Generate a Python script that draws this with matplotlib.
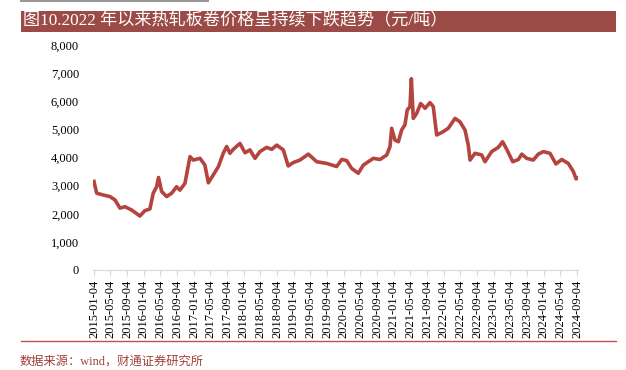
import pandas as pd
import matplotlib
matplotlib.use("Agg")
import matplotlib.pyplot as plt
import matplotlib.dates as mdates
from matplotlib.patches import Rectangle
from matplotlib.lines import Line2D
from matplotlib.ticker import FuncFormatter

plt.rcParams['font.family'] = ['Liberation Serif', 'Noto Sans CJK SC', 'DejaVu Sans']

# hot rolled coil price (yuan/ton)
dates = ['2015-01-04', '2015-01-11', '2015-01-24', '2015-03-11', '2015-05-01', '2015-06-07',
         '2015-07-13', '2015-08-19', '2015-10-07', '2015-12-06', '2016-01-11', '2016-02-17',
         '2016-03-12', '2016-04-06', '2016-04-20', '2016-05-13', '2016-06-18', '2016-07-25',
         '2016-08-30', '2016-09-23', '2016-10-30', '2016-12-06', '2016-12-30', '2017-02-17',
         '2017-03-25', '2017-04-19', '2017-05-25', '2017-07-01', '2017-08-06', '2017-08-31',
         '2017-09-24', '2017-10-18', '2017-12-06', '2018-01-12', '2018-02-17', '2018-03-26',
         '2018-05-01', '2018-06-19', '2018-07-26', '2018-09-01', '2018-10-19', '2018-11-24',
         '2018-12-31', '2019-02-18', '2019-04-20', '2019-06-20', '2019-09-01', '2019-11-13',
         '2019-12-20', '2020-01-25', '2020-03-02', '2020-04-19', '2020-05-26', '2020-08-07',
         '2020-09-25', '2020-11-13', '2020-12-07', '2020-12-19', '2021-01-12', '2021-02-06',
         '2021-03-02', '2021-03-26', '2021-04-12', '2021-05-02', '2021-05-12', '2021-05-26',
         '2021-06-20', '2021-07-19', '2021-08-20', '2021-09-25', '2021-10-19', '2021-11-13',
         '2021-12-31', '2022-02-06', '2022-03-27', '2022-05-02', '2022-06-08', '2022-07-02',
         '2022-07-15', '2022-08-20', '2022-10-08', '2022-11-01', '2022-12-20', '2023-02-06',
         '2023-03-10', '2023-04-09', '2023-05-23', '2023-07-03', '2023-07-28', '2023-09-02',
         '2023-10-20', '2023-11-26', '2024-01-02', '2024-02-19', '2024-04-03', '2024-05-15',
         '2024-07-02', '2024-08-08', '2024-08-28', '2024-09-04']
prices = [3150, 3000, 2730, 2670, 2610, 2490,
          2200, 2250, 2130, 1920, 2110, 2170,
          2730, 2960, 3290, 2790, 2610, 2730,
          2960, 2840, 3080, 4030, 3910, 3970,
          3730, 3100, 3380, 3670, 4150, 4390,
          4150, 4290, 4500, 4170, 4270, 3970,
          4210, 4360, 4290, 4440, 4270, 3700,
          3820, 3910, 4120, 3850, 3790, 3680,
          3930, 3890, 3610, 3440, 3730, 3970,
          3930, 4090, 4390, 5040, 4620, 4560,
          4980, 5160, 5690, 5810, 6800, 5390,
          5570, 5920, 5750, 5950, 5810, 4800,
          4920, 5040, 5390, 5270, 4980, 4440,
          3910, 4150, 4090, 3850, 4210, 4360,
          4560, 4290, 3850, 3930, 4120, 3970,
          3910, 4120, 4210, 4150, 3770, 3930,
          3790, 3500, 3240, 3260]

# axis labels fall on the 4th of every fourth month
tick_dates = pd.date_range('2015-01-01', '2024-09-01', freq='4MS') + pd.Timedelta(days=3)

title = '图10.2022 年以来热轧板卷价格呈持续下跌趋势（元/吨）'
source = '数据来源：wind，财通证券研究所'

bar_color = '#9C4A46'
line_color = '#B5443F'

df = pd.DataFrame({'price': prices}, index=pd.to_datetime(dates))

fig = plt.figure(figsize=(6.26, 3.70), dpi=100)
ax = fig.add_axes([93 / 626, 100 / 370, 485 / 626, 225 / 370])

ax.plot(df.index, df.price, color=line_color, lw=2.6, solid_joinstyle='round')

ax.set_ylim(0, 8000)
ax.set_yticks(range(0, 8001, 1000))
ax.yaxis.set_major_formatter(FuncFormatter(lambda v, p: '{:,.0f}'.format(v)))
ax.set_xlim(pd.Timestamp('2014-12-28'), pd.Timestamp('2024-09-11'))
ax.set_xticks(tick_dates)
ax.xaxis.set_major_formatter(mdates.DateFormatter('%Y-%m-%d'))

for s in ['top', 'right', 'left']:
    ax.spines[s].set_visible(False)
ax.spines['bottom'].set_color('#d9d9d9')
ax.tick_params(axis='y', length=0, pad=10, labelsize=9)
ax.tick_params(axis='x', length=4, color='#d9d9d9', labelsize=9, rotation=90, pad=3)

# header and footer decorations
fig.add_artist(Line2D([21 / 626, 208 / 626], [369.5 / 370, 369.5 / 370], color='#999999', lw=1.5))
fig.add_artist(Rectangle((21 / 626, 338 / 370), 595 / 626, 21 / 370, color=bar_color, lw=0))
fig.text(23 / 626, 348.5 / 370, title, color='white', fontsize=12.3, va='center', ha='left')
fig.add_artist(Line2D([21 / 626, 616 / 626], [29 / 370, 29 / 370], color='#C0504D', lw=1.0))
fig.text(20 / 626, 8 / 370, source, color='#A0403A', fontsize=8.8, va='center', ha='left')

fig.savefig('out.png', dpi=100)
